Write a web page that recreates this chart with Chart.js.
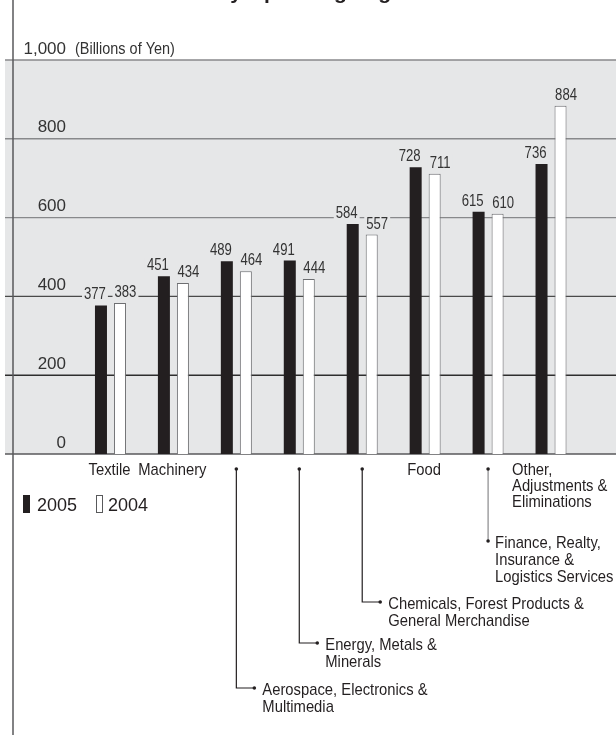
<!DOCTYPE html>
<html>
<head>
<meta charset="utf-8">
<script src="https://cdn.jsdelivr.net/npm/chart.js@4.4.1/dist/chart.umd.min.js"></script>
<style>
html,body{margin:0;padding:0;background:#fff;}
#wrap{width:616px;height:735px;position:relative;}
</style>
</head>
<body>
<div id="wrap"><canvas id="c" width="616" height="735"></canvas></div>
<script>
// ---- data ----
const titleText = 'Total Assets by Operating Segment';
const unitLabel = '(Billions of Yen)';
const categories = ['Textile', 'Machinery', 'Aerospace, Electronics & Multimedia', 'Energy, Metals & Minerals',
  'Chemicals, Forest Products & General Merchandise', 'Food', 'Finance, Realty, Insurance & Logistics Services',
  'Other, Adjustments & Eliminations'];
const categoryLines = [['Textile'], ['Machinery'], ['Aerospace, Electronics &', 'Multimedia'], ['Energy, Metals &', 'Minerals'],
  ['Chemicals, Forest Products &', 'General Merchandise'], ['Food'], ['Finance, Realty,', 'Insurance &', 'Logistics Services'],
  ['Other,', 'Adjustments &', 'Eliminations']];
const seriesNames = ['2005', '2004'];
const values2005 = [377, 451, 489, 491, 584, 728, 615, 736];
const values2004 = [383, 434, 464, 444, 557, 711, 610, 884];
const tickValues = [0, 200, 400, 600, 800, 1000];
const tickLabels = ['0', '200', '400', '600', '800', '1,000'];

// ---- style ----
const fontReg = '"Liberation Sans", Arial, sans-serif';
const plotBg = '#e6e7e8';
const gridColors = ['#58595b', '#2e2e2e', '#4a4a4a', '#88898b', '#88898b', '#88898b'];
const labelLayout = [
  {mode: 'center'}, {mode: 'center'},
  {mode: 'leader', y: 688}, {mode: 'leader', y: 643}, {mode: 'leader', y: 602},
  {mode: 'center'}, {mode: 'drop', y: 541}, {mode: 'left', dx: -39}
];

function condText(ctx, txt, x, y, align, sx) {
  const w = ctx.measureText(txt).width * sx;
  const x0 = align === 'center' ? x - w / 2 : (align === 'right' ? x - w : x);
  ctx.save();
  ctx.translate(x0, y);
  ctx.scale(sx, 1);
  ctx.textAlign = 'left';
  ctx.fillText(txt, 0, 0);
  ctx.restore();
  return w;
}

const decor = {
  id: 'decor',
  beforeDraw(chart) {
    const {ctx} = chart;
    const y = chart.scales.y;
    const W = chart.width, H = chart.height;
    ctx.save();
    ctx.fillStyle = '#fff';
    ctx.fillRect(0, 0, W, H);
    const top = y.getPixelForValue(tickValues[tickValues.length - 1]);
    const bot = y.getPixelForValue(0);
    ctx.fillStyle = plotBg;
    ctx.fillRect(5, top, W - 5, bot - top);
    tickValues.forEach((v, k) => {
      const py = y.getPixelForValue(v);
      ctx.strokeStyle = gridColors[k];
      ctx.lineWidth = 1.4;
      ctx.beginPath(); ctx.moveTo(5, py); ctx.lineTo(W, py); ctx.stroke();
    });
    ctx.strokeStyle = '#58595b';
    ctx.lineWidth = 1.5;
    ctx.beginPath(); ctx.moveTo(13, 0); ctx.lineTo(13, H); ctx.stroke();
    // title (mostly cropped in the reference)
    ctx.font = 'bold 21px ' + fontReg;
    ctx.fillStyle = '#231f20';
    ctx.textAlign = 'left';
    ctx.textBaseline = 'alphabetic';
    const pre = ctx.measureText('Total Assets b').width;
    const wy = ctx.measureText('y').width;
    ctx.fillText(titleText, 236 - pre - wy / 2, -1.5);
    // unit label next to top tick
    ctx.font = '17px ' + fontReg;
    ctx.fillStyle = '#333';
    condText(ctx, unitLabel, 75, top - 12 + 6, 'left', 0.85);
    ctx.restore();
  },
  afterDatasetsDraw(chart) {
    const {ctx} = chart;
    const xs = chart.scales.x;
    ctx.save();
    ctx.textBaseline = 'alphabetic';
    // value labels
    ctx.font = '16px ' + fontReg;
    chart.data.datasets.forEach((ds, di) => {
      const meta = chart.getDatasetMeta(di);
      meta.data.forEach((bar, i) => {
        const txt = String(ds.data[i]);
        const x = bar.x + (di === 0 ? -6 : 5.5);
        const yb = bar.y - 6;
        const w = ctx.measureText(txt).width * 0.82;
        ctx.fillStyle = plotBg;
        ctx.fillRect(x - w / 2 - 2, yb - 13, w + 4, 15);
        ctx.fillStyle = '#333';
        condText(ctx, txt, x, yb, 'center', 0.82);
      });
    });
    // category labels
    const rowY = 469;
    const sx = 0.87;
    ctx.font = '17px ' + fontReg;
    const dot = (x, y, c) => { ctx.fillStyle = c; ctx.beginPath(); ctx.arc(x, y, 1.8, 0, Math.PI * 2); ctx.fill(); };
    categoryLines.forEach((lines, i) => {
      const cx = xs.getPixelForValue(i);
      const L = labelLayout[i];
      if (L.mode === 'center') {
        ctx.fillStyle = '#231f20';
        condText(ctx, lines[0], cx - 1, rowY + 6, 'center', sx);
      } else if (L.mode === 'left') {
        ctx.fillStyle = '#231f20';
        lines.forEach((t, k) => condText(ctx, t, cx + L.dx, rowY + 6 + k * 16, 'left', sx));
      } else if (L.mode === 'leader') {
        ctx.strokeStyle = '#231f20';
        ctx.lineWidth = 1.2;
        ctx.beginPath();
        ctx.moveTo(cx, rowY); ctx.lineTo(cx, L.y); ctx.lineTo(cx + 18, L.y);
        ctx.stroke();
        dot(cx, rowY, '#231f20');
        dot(cx + 18, L.y, '#231f20');
        ctx.fillStyle = '#231f20';
        lines.forEach((t, k) => condText(ctx, t, cx + 26, L.y + 7 + k * 17, 'left', sx));
      } else if (L.mode === 'drop') {
        ctx.strokeStyle = '#88898b';
        ctx.lineWidth = 1.2;
        ctx.beginPath(); ctx.moveTo(cx, rowY); ctx.lineTo(cx, L.y); ctx.stroke();
        dot(cx, rowY, '#231f20');
        dot(cx, L.y, '#231f20');
        ctx.fillStyle = '#231f20';
        lines.forEach((t, k) => condText(ctx, t, cx + 7, L.y + 7 + k * 17, 'left', sx));
      }
    });
    // legend
    const ds = chart.data.datasets;
    ctx.font = '18px ' + fontReg;
    ctx.textAlign = 'left';
    ctx.fillStyle = ds[0].backgroundColor;
    ctx.fillRect(23, 495, 7, 18);
    ctx.fillStyle = '#231f20';
    ctx.fillText(ds[0].label, 37, 511);
    ctx.fillStyle = ds[1].backgroundColor;
    ctx.fillRect(96, 495, 6, 18);
    ctx.strokeStyle = '#58595b';
    ctx.lineWidth = 1;
    ctx.strokeRect(96.5, 495.5, 6, 17);
    ctx.fillStyle = '#231f20';
    ctx.fillText(ds[1].label, 108, 511);
    ctx.restore();
  }
};

new Chart(document.getElementById('c'), {
  type: 'bar',
  data: {
    labels: categories,
    datasets: [
      {label: seriesNames[0], data: values2005, backgroundColor: '#231f20', borderWidth: 0,
       categoryPercentage: 0.6037, barPercentage: 0.632},
      {label: seriesNames[1], data: values2004, backgroundColor: '#ffffff', borderColor: '#6d6e71', borderWidth: 1,
       categoryPercentage: 0.6037, barPercentage: 0.632}
    ]
  },
  options: {
    responsive: false,
    animation: false,
    layout: {padding: {left: 13, right: 33.5, top: 60, bottom: 281}},
    plugins: {legend: {display: false}, tooltip: {enabled: false}},
    scales: {
      x: {display: false, offset: true},
      y: {
        min: 0, max: 1000,
        afterFit: (s) => { s.width = 66; },
        grid: {display: false, drawTicks: false},
        border: {display: false},
        ticks: {
          stepSize: 200,
          padding: 13,
          labelOffset: -11,
          color: '#333',
          font: {family: fontReg, size: 17},
          callback: (v) => { const k = tickValues.indexOf(v); return k >= 0 ? tickLabels[k] : ''; }
        }
      }
    }
  },
  plugins: [decor]
});
</script>
</body>
</html>
